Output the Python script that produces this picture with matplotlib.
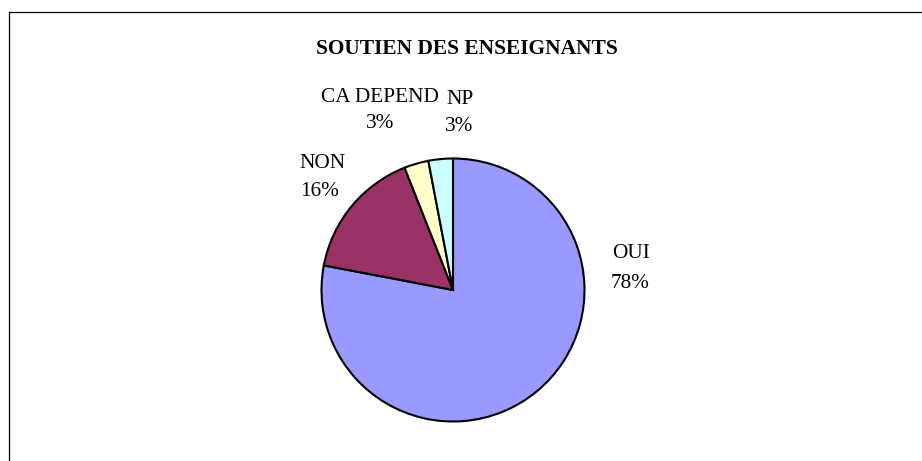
import matplotlib.pyplot as plt
from matplotlib.lines import Line2D

plt.rcParams['font.family'] = ['Liberation Serif', 'DejaVu Serif']

# data
categories = ["OUI", "NON", "CA DEPEND", "NP"]
values = [78, 16, 3, 3]
colors = ["#9999FF", "#993366", "#FFFFCC", "#CCFFFF"]
title = "SOUTIEN DES ENSEIGNANTS"

# label centres in pixels (x, y from top) for name and percentage lines
name_pos = [(631, 254), (322, 163), (380, 97), (460, 99)]
pct_pos = [(630, 283), (320, 191), (380, 124), (459, 126)]

W, H = 922, 461
fig = plt.figure(figsize=(W / 100, H / 100), dpi=100)

cx, cy, r = 453, 290, 131.5
ax = fig.add_axes([(cx - r) / W, (H - cy - r) / H, 2 * r / W, 2 * r / H])
ax.pie(values, colors=colors, startangle=90, counterclock=False,
       wedgeprops=dict(edgecolor="black", linewidth=1.5), frame=False)
ax.set_aspect('auto')
ax.set_xlim(-1, 1)
ax.set_ylim(-1, 1)
ax.axis('off')

total = sum(values)
for cat, val, (nx, ny), (px, py) in zip(categories, values, name_pos, pct_pos):
    fig.text(nx / W, 1 - ny / H, cat, ha='center', va='center', fontsize=15.3)
    fig.text(px / W, 1 - py / H, f"{round(val / total * 100)}%", ha='center', va='center', fontsize=15.3)

fig.text(467 / W, 1 - 49 / H, title, ha='center', va='center', fontsize=15.4, fontweight='bold')

# chart area border (only left and top edges visible)
fig.add_artist(Line2D([8.5 / W, 8.5 / W], [0, 1 - 12.5 / H], transform=fig.transFigure, color='black', lw=0.9))
fig.add_artist(Line2D([8.5 / W, 1], [1 - 12.5 / H, 1 - 12.5 / H], transform=fig.transFigure, color='black', lw=0.9))

fig.savefig("out.png", dpi=100, facecolor='white')
